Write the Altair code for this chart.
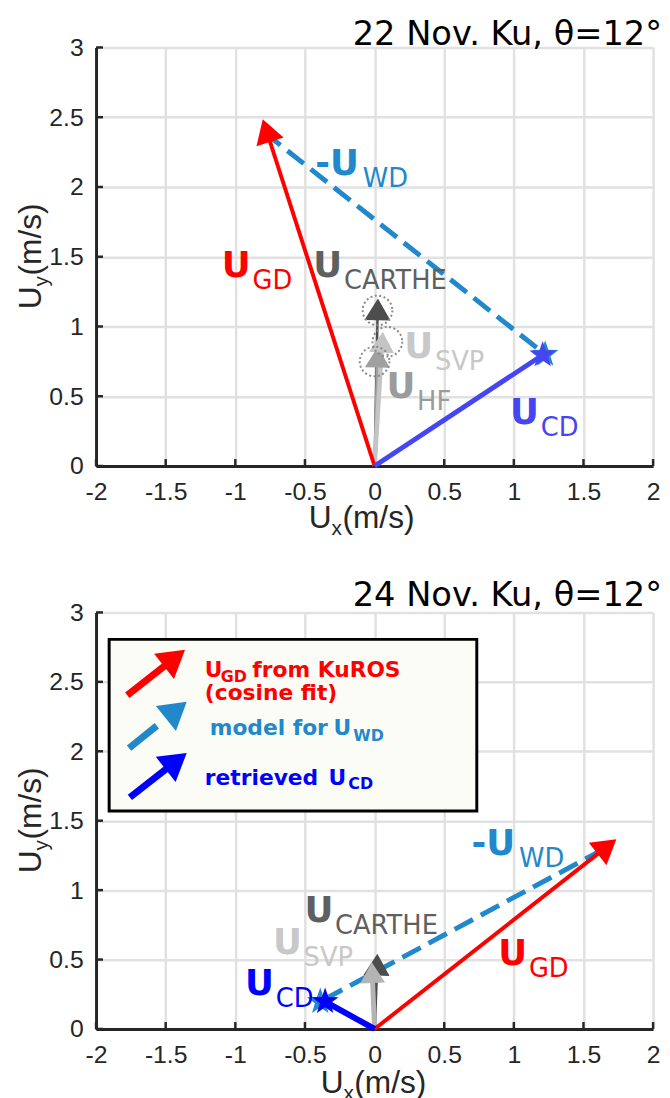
import math
import altair as alt
import pandas as pd

# ---------------- values ----------------
TITLES = ["22 Nov. Ku, θ=12°", "24 Nov. Ku, θ=12°"]
X_TICKS = [-2, -1.5, -1, -0.5, 0, 0.5, 1, 1.5, 2]
Y_TICKS = [0, 0.5, 1, 1.5, 2, 2.5, 3]

# 22 Nov. panel: vector tips (all vectors start at the origin)
A_VEC_NAMES = ["CARTHE", "HF", "SVP", "GD", "CD"]
A_VEC_X = [0.024, 0.024, 0.059, -0.803, 1.207]
A_VEC_Y = [1.200, 0.855, 0.962, 2.486, 0.796]
A_WD_START = [-0.793, 2.392]
A_WD_END = [1.225, 0.800]
A_CIRCLE_X = [0.021, 0.092, 0.000]
A_CIRCLE_Y = [1.115, 0.891, 0.749]
A_LABEL_NAMES = ["WD", "GD", "CARTHE", "SVP", "HF", "CD"]
A_LABEL_X = [-0.426, -1.097, -0.440, 0.213, 0.085, 0.973]
A_LABEL_Y = [2.085, 1.357, 1.357, 0.773, 0.489, 0.300]

# 24 Nov. panel
B_VEC_NAMES = ["CARTHE", "SVP", "GD", "CD"]
B_VEC_X = [0.020, -0.020, 1.736, -0.355]
B_VEC_Y = [0.541, 0.480, 1.366, 0.197]
B_WD_START = [1.645, 1.295]
B_WD_END = [-0.390, 0.197]
B_LABEL_NAMES = ["WD", "GD", "CD", "SVP", "CARTHE"]
B_LABEL_X = [0.696, 0.888, -0.930, -0.730, -0.504]
B_LABEL_Y = [1.253, 0.458, 0.244, 0.541, 0.767]

# legend of the 24 Nov. panel
LEG_BOX_X = [-1.906, 0.734]
LEG_BOX_Y = [2.806, 1.570]
LEG_NAMES = ["GD", "WD", "CD"]
LEG_TAIL_X = [-1.776, -1.763, -1.757]
LEG_TAIL_Y = [2.404, 2.023, 1.668]
LEG_TIP_X = [-1.361, -1.349, -1.349]
LEG_TIP_Y = [2.731, 2.356, 1.988]
LEG_TEXT_X = -1.219
LEG_TEXT_Y = [2.534, 2.367, 2.119, 1.758]

# ---------------- styling ----------------
W, H1, H2 = 563, 423, 421
PX = W / 4.0
FONT_AX = "Liberation Sans"
FONT_LAB = "DejaVu Sans"
AXC = "#262626"
RED, WDC = "#ff0000", "#2288cc"

HEAD = "M0,0L-0.6,1L0.6,1Z"
_pts = []
for k in range(10):
    a = math.radians(-90 + 36 * k)
    r = 1.0 if k % 2 == 0 else 0.40
    _pts.append(f"{r*math.cos(a):.3f},{r*math.sin(a):.3f}")
STAR = "M" + "L".join(_pts) + "Z"

XS = alt.Scale(domain=[-2, 2], nice=False, zero=False)
YS = alt.Scale(domain=[0, 3], nice=False, zero=False)
COMMON_AX = dict(title=None, ticks=False, tickSize=0, labelExpr="'' + datum.value",
                 labelFont=FONT_AX, labelFontSize=25, labelColor=AXC,
                 labelFlush=False, labelOverlap=False, labelBound=False,
                 grid=True, gridColor="#e1e1e1", gridWidth=2.5,
                 domainColor=AXC, domainWidth=3)
XAX = alt.Axis(values=X_TICKS, labelPadding=14, **COMMON_AX)
YAX = alt.Axis(values=Y_TICKS, labelPadding=13, **COMMON_AX)


def X(f):
    return alt.X(f"{f}:Q", scale=XS, axis=XAX)


def Y(f):
    return alt.Y(f"{f}:Q", scale=YS, axis=YAX)


def vec_frame(names, tx, ty, colors, widths, heads, ox=None, oy=None):
    rows = []
    for i, (n, x, y) in enumerate(zip(names, tx, ty)):
        x0 = ox[i] if ox else 0.0
        y0 = oy[i] if oy else 0.0
        dx, dy = x - x0, y - y0
        L = heads.get(n, 0)
        ln = math.hypot(dx, dy)
        back = 0.6 * L / PX
        rows.append(dict(name=n, x0=x0, y0=y0, x=x, y=y,
                         ex=x - back * dx / ln, ey=y - back * dy / ln,
                         ang=math.degrees(math.atan2(dx, dy)) % 360,
                         hs=4 * L * L, col=colors[n], sw=widths[n]))
    return pd.DataFrame(rows)


def shafts(df, dash=None):
    kw = dict(strokeCap="butt")
    if dash:
        kw["strokeDash"] = dash
    return alt.Chart(df).mark_rule(**kw).encode(
        x=X("x0"), y=Y("y0"), x2="ex:Q", y2="ey:Q",
        color=alt.Color("col:N", scale=None),
        strokeWidth=alt.StrokeWidth("sw:Q", scale=None))


def heads(df):
    return alt.Chart(df[df.hs > 0]).mark_point(
        shape=HEAD, filled=True, opacity=1, strokeWidth=0).encode(
        x=X("x"), y=Y("y"), angle=alt.Angle("ang:Q", scale=None),
        size=alt.Size("hs:Q", scale=None), fill=alt.Fill("col:N", scale=None))


def text_piece(text, x, y, color, size, bold=False, dx=0, dy=0, font=FONT_LAB):
    df = pd.DataFrame({"x": [x], "y": [y], "t": [text]})
    return alt.Chart(df).mark_text(
        font=font, fontSize=size, fontWeight="bold" if bold else "normal",
        align="left", baseline="alphabetic", dx=dx, dy=dy, color=color).encode(
        x=X("x"), y=Y("y"), text="t:N")


def frame_text(text, px, py, size, font, color=AXC, dx=0, dy=0, angle=0, align="left"):
    df = pd.DataFrame({"t": [text]})
    kw = dict(font=font, fontSize=size, align=align, baseline="alphabetic",
              dx=dx, dy=dy, color=color)
    if angle:
        kw["angle"] = angle
    return alt.Chart(df).mark_text(**kw).encode(
        x=alt.value(px), y=alt.value(py), text="t:N")


def panel(H, title, title_dy, xt0, xt_dy, vnames, vx, vy, wd_start, wd_end,
          lnames, lx, ly, vcol, lcol, vwidth, circles=None, legend=False):
    layers = []
    # inward ticks
    layers.append(alt.Chart(pd.DataFrame({"x": X_TICKS})).mark_rule(
        color=AXC, strokeWidth=2.5).encode(x=X("x"), y=alt.value(H), y2=alt.value(H - 7)))
    layers.append(alt.Chart(pd.DataFrame({"y": Y_TICKS})).mark_rule(
        color=AXC, strokeWidth=2.5).encode(y=Y("y"), x=alt.value(0), x2=alt.value(7)))

    if legend:
        bdf = pd.DataFrame({"x": [LEG_BOX_X[0]], "x2": [LEG_BOX_X[1]],
                            "y": [LEG_BOX_Y[0]], "y2": [LEG_BOX_Y[1]]})
        layers.append(alt.Chart(bdf).mark_rect(fill="#fafcf5", stroke="black",
                                               strokeWidth=3).encode(
            x=X("x"), x2="x2:Q", y=Y("y"), y2="y2:Q"))
        lc = {"GD": RED, "WD": WDC, "CD": "#0000ff"}
        ldf = vec_frame(LEG_NAMES, LEG_TIP_X, LEG_TIP_Y, lc, {k: 7 for k in lc},
                        {k: 27 for k in lc}, ox=LEG_TAIL_X, oy=LEG_TAIL_Y)
        layers.append(shafts(ldf[ldf.name != "WD"]))
        layers.append(shafts(ldf[ldf.name == "WD"], dash=[36, 40]))
        layers.append(heads(ldf))
        tx, ty = LEG_TEXT_X, LEG_TEXT_Y
        layers += [
            text_piece("U", tx, ty[0], RED, 22, True),
            text_piece("GD", tx, ty[0], RED, 16, True, dx=16, dy=5),
            text_piece("from KuROS", tx, ty[0], RED, 22, True, dx=48),
            text_piece("(cosine fit)", tx, ty[1], RED, 22, True),
            text_piece("model for", tx, ty[2], WDC, 22, True, dx=5),
            text_piece("U", tx, ty[2], WDC, 22, True, dx=130),
            text_piece("WD", tx, ty[2], WDC, 16, True, dx=150, dy=6),
            text_piece("retrieved", tx, ty[3], "#0000ff", 22, True),
            text_piece("U", tx, ty[3], "#0000ff", 22, True, dx=125),
            text_piece("CD", tx, ty[3], "#0000ff", 16, True, dx=145, dy=4),
        ]

    hl = {"GD": 24, "CARTHE": 22, "HF": 21, "SVP": 21}
    vdf = vec_frame(vnames, vx, vy, vcol, vwidth, hl)
    wdf = vec_frame(["WD"], [wd_end[0]], [wd_end[1]], {"WD": WDC}, {"WD": 5}, {},
                    ox=[wd_start[0]], oy=[wd_start[1]])
    layers.append(shafts(wdf, dash=[21, 9]))
    layers.append(shafts(vdf))
    layers.append(heads(vdf))
    if circles:
        cdf = pd.DataFrame({"x": circles[0], "y": circles[1]})
        layers.append(alt.Chart(cdf).mark_point(
            shape="circle", filled=False, size=900, strokeDash=[2, 2.5],
            strokeWidth=2, color="#8a8a8a", opacity=1).encode(x=X("x"), y=Y("y")))
    # stars at the end of -U_WD and of U_CD
    sdf = pd.DataFrame({"x": [wd_end[0], vx[vnames.index("CD")]],
                        "y": [wd_end[1], vy[vnames.index("CD")]],
                        "col": [WDC, vcol["CD"]]})
    layers.append(alt.Chart(sdf).mark_point(shape=STAR, filled=True, opacity=1,
                                            size=800, strokeWidth=0).encode(
        x=X("x"), y=Y("y"), fill=alt.Fill("col:N", scale=None)))

    # vector labels
    for n, x, y in zip(lnames, lx, ly):
        main = "-U" if n == "WD" else "U"
        layers.append(text_piece(main, x, y, lcol[n], 36, bold=True))
        layers.append(text_piece(n, x, y, lcol[n], 26, dx=48 if n == "WD" else 31, dy=12))

    # title and axis titles
    layers.append(frame_text(title, W + 9, title_dy, 34, FONT_LAB, color="black", align="right"))
    layers += [
        frame_text("U", xt0, H + xt_dy, 32, FONT_AX),
        frame_text("x", xt0 + 23, H + xt_dy + 7, 21, FONT_AX),
        frame_text("(m/s)", xt0 + 34, H + xt_dy, 32, FONT_AX),
    ]
    yt0 = H / 2 + 53
    layers += [
        frame_text("U", -56, yt0, 32, FONT_AX, angle=270),
        frame_text("y", -56, yt0, 21, FONT_AX, angle=270, dx=23, dy=7),
        frame_text("(m/s)", -56, yt0, 32, FONT_AX, angle=270, dx=34),
    ]
    return alt.layer(*layers).properties(width=W, height=H)


top = panel(
    H1, TITLES[0], -3, 215, 63, A_VEC_NAMES, A_VEC_X, A_VEC_Y, A_WD_START, A_WD_END,
    A_LABEL_NAMES, A_LABEL_X, A_LABEL_Y,
    vcol={"CARTHE": "#4d4d4d", "HF": "#a0a0a0", "SVP": "#c4c4c4", "GD": RED, "CD": "#4545f2"},
    lcol={"WD": WDC, "GD": RED, "CARTHE": "#5f5f5f", "SVP": "#c8c8c8", "HF": "#9b9b9b", "CD": "#4545f2"},
    vwidth={"CARTHE": 2.5, "HF": 3, "SVP": 4.5, "GD": 4, "CD": 5},
    circles=(A_CIRCLE_X, A_CIRCLE_Y))

bottom = panel(
    H2, TITLES[1], -7, 227, 65, B_VEC_NAMES, B_VEC_X, B_VEC_Y, B_WD_START, B_WD_END,
    B_LABEL_NAMES, B_LABEL_X, B_LABEL_Y,
    vcol={"CARTHE": "#4d4d4d", "SVP": "#b4b4b4", "GD": RED, "CD": "#0000ff"},
    lcol={"WD": WDC, "GD": RED, "CARTHE": "#5f5f5f", "SVP": "#c8c8c8", "CD": "#0000ff"},
    vwidth={"CARTHE": 3, "SVP": 5, "GD": 4, "CD": 6},
    legend=True)

chart = alt.vconcat(top, bottom, spacing=148, bounds="flush").properties(
    padding={"left": 7, "top": 4, "right": 0, "bottom": 0}, background="white"
).configure_view(strokeWidth=0)

chart.save("out.html", embed_options={"renderer": "svg", "actions": False})
